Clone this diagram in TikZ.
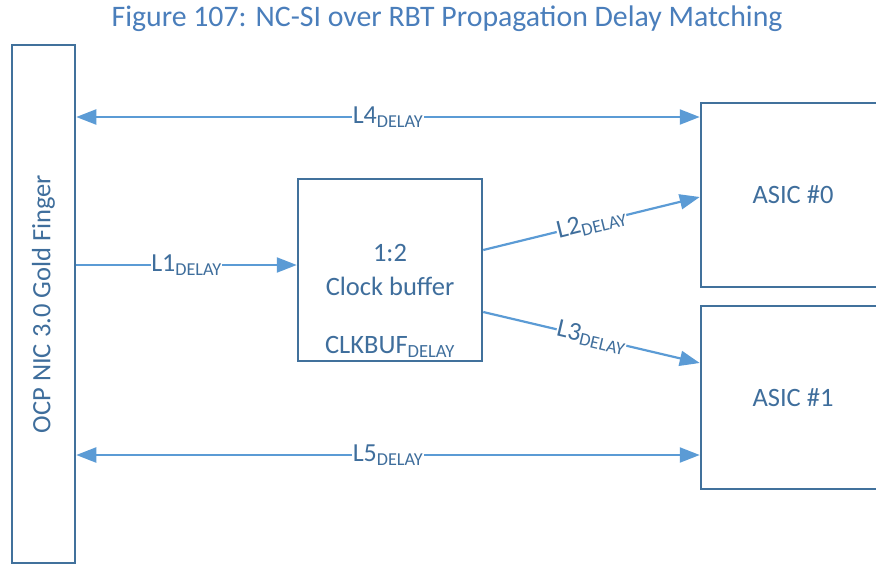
\documentclass[tikz,border=0pt]{standalone}
\usepackage{fontspec}
\setmainfont{Carlito}
\usetikzlibrary{arrows.meta,calc}
\definecolor{boxblue}{HTML}{41719C}
\definecolor{lineblue}{HTML}{5B9BD5}
\definecolor{txtblue}{HTML}{3F6E9C}
\definecolor{ttlblue}{HTML}{4A7EBB}
\tikzset{
  blk/.style  ={draw=boxblue, line width=2.5pt, text=txtblue, font=\fontsize{26.5}{33}\selectfont,
                align=center, inner sep=0pt},
  sig/.style  ={-{Triangle[length=20pt,width=15pt]}, draw=lineblue, line width=2.2pt},
  bsig/.style ={{Triangle[length=20pt,width=15pt]}-{Triangle[length=20pt,width=15pt]},
                draw=lineblue, line width=2.2pt},
  lbl/.style  ={fill=white, text=txtblue, font=\fontsize{26}{30}\selectfont, inner sep=0.5pt},
}

\begin{document}
\begin{tikzpicture}[x=1pt,y=-1pt]
\useasboundingbox (0,0) rectangle (876,565);

\node[text=ttlblue, font=\fontsize{29.8}{34}\selectfont] (title) at (447,19)
  {Figure 107: NC-SI over RBT Propagation Delay Matching};

\node[blk, minimum width=63pt, minimum height=518pt] (gold) at (43.5,304)
  {\rotatebox{90}{OCP NIC 3.0 Gold Finger}};
\node[blk, minimum width=184pt, minimum height=182pt] (buf) at (390,270) {};
\node[text=txtblue, font=\fontsize{26.5}{34}\selectfont, align=center] (buftxt) at (390,270) {1:2\\Clock buffer};
\node[text=txtblue, font=\fontsize{26.5}{30}\selectfont] (bufdly) at (390,347) {CLKBUF\textsubscript{DELAY}};
\node[blk, minimum width=184pt, minimum height=184pt] (asic0) at (793,195) {ASIC \#0};
\node[blk, minimum width=184pt, minimum height=183pt] (asic1) at (793,397.5) {ASIC \#1};

\coordinate (l4y) at (0,117);
\coordinate (l1y) at (0,265);
\coordinate (l5y) at (0,455);

\draw[bsig] (gold.east |- l4y) -- (asic0.west |- l4y) node[lbl, pos=0.5] {L4\textsubscript{DELAY}};
\draw[bsig] (gold.east |- l5y) -- (asic1.west |- l5y) node[lbl, pos=0.5] {L5\textsubscript{DELAY}};
\draw[sig] (gold.east |- l1y) -- (buf.west |- l1y) node[lbl, pos=0.5] {L1\textsubscript{DELAY}};
\draw[sig] ($(buf.east)+(0,-20)$) -- ($(asic0.west)+(0,2)$) node[lbl, pos=0.5, sloped] {L2\textsubscript{DELAY}};
\draw[sig] ($(buf.east)+(0,42)$) -- ($(asic1.west)+(0,-34.5)$) node[lbl, pos=0.5, sloped] {L3\textsubscript{DELAY}};

\end{tikzpicture}
\end{document}
